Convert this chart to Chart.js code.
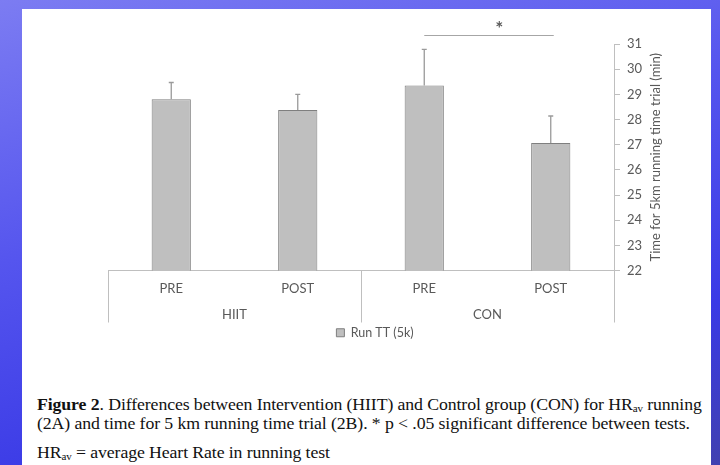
<!DOCTYPE html>
<html>
<head>
<meta charset="utf-8">
<script src="https://cdn.jsdelivr.net/npm/chart.js@4.4.1/dist/chart.umd.min.js"></script>
<style>
  html, body { margin: 0; padding: 0; }
  body {
    width: 720px; height: 465px; overflow: hidden; position: relative;
    background: linear-gradient(165deg, #7c7cf2 0%, #5555ee 40%, #3a3ae6 75%, #4040b0 100%);
  }
  #panel { position: absolute; left: 22px; top: 9px; width: 689px; height: 470px; background: #fff; }
  #wrap { position: absolute; left: 0; top: 0; width: 689px; height: 346px; }
  #caption {
    position: absolute; left: 15px; top: 386px; width: 680px; white-space: nowrap;
    font-family: "Liberation Serif", "Times New Roman", serif; font-size: 17.75px; color: #111;
    line-height: 19px; letter-spacing: -0.1px;
  }
  #caption p { margin: 0; }
  #caption p + p { margin-top: 10px; }
  sub { font-size: 11px; vertical-align: -2px; line-height: 0; }
</style>
</head>
<body>
<div id="panel">
  <div id="wrap"><canvas id="runChart"></canvas></div>
  <div id="caption">
    <p><b>Figure 2</b>. Differences between Intervention (HIIT) and Control group (CON) for HR<sub>av</sub> running<br>(2A) and time for 5 km running time trial (2B). * p &lt; .05 significant difference between tests.</p>
    <p>HR<sub>av</sub> = average Heart Rate in running test</p>
  </div>
</div>
<script>
// data
const phases = ['PRE', 'POST', 'PRE', 'POST'];
const groups = ['HIIT', 'CON'];
const runTimes = [28.8, 28.38, 29.35, 27.07];
const runSD = [0.67, 0.62, 1.44, 1.07];
const sigPair = [2, 3];
const sigLevel = 31.36;
const yTicks = [22, 31];

const labelColor = '#595959';
const lineColor = '#bfbfbf';
const tickFont = { family: 'Lato, "Open Sans", sans-serif', size: 13 };

// error bars, group labels, separators, significance mark, y title
const extras = {
    id: 'extras',
    afterDatasetsDraw(chart) {
        const ctx = chart.ctx;
        const x = chart.scales.x;
        const y = chart.scales.y;
        const area = chart.chartArea;
        ctx.save();

        // error bars
        ctx.strokeStyle = '#9a9a9a';
        ctx.lineWidth = 1.3;
        runTimes.forEach((v, i) => {
            const px = x.getPixelForValue(i);
            const top = y.getPixelForValue(v + runSD[i]);
            ctx.beginPath();
            ctx.moveTo(px, y.getPixelForValue(v));
            ctx.lineTo(px, top);
            ctx.moveTo(px - 2.5, top);
            ctx.lineTo(px + 2.5, top);
            ctx.stroke();
        });

        // separators for the two groups
        const bottom = x.bottom;
        const mid = (x.getPixelForValue(1) + x.getPixelForValue(2)) / 2;
        ctx.strokeStyle = lineColor;
        ctx.lineWidth = 1;
        [area.left, mid, area.right].forEach(px => {
            ctx.beginPath();
            ctx.moveTo(Math.round(px) + 0.5, area.bottom);
            ctx.lineTo(Math.round(px) + 0.5, bottom);
            ctx.stroke();
        });

        // group labels
        ctx.fillStyle = labelColor;
        ctx.font = '13px Lato, "Open Sans", sans-serif';
        ctx.textAlign = 'center';
        ctx.textBaseline = 'middle';
        groups.forEach((g, i) => {
            const cx = (x.getPixelForValue(i * 2) + x.getPixelForValue(i * 2 + 1)) / 2;
            ctx.fillText(g, cx, area.bottom + 44);
        });

        // significance line
        const sx1 = x.getPixelForValue(sigPair[0]);
        const sx2 = x.getPixelForValue(sigPair[1]) + 3;
        const sy = y.getPixelForValue(sigLevel);
        ctx.strokeStyle = '#a6a6a6';
        ctx.beginPath();
        ctx.moveTo(sx1, Math.round(sy) + 0.5);
        ctx.lineTo(sx2, Math.round(sy) + 0.5);
        ctx.stroke();
        ctx.fillStyle = '#595959';
        ctx.font = 'bold 19px Lato, sans-serif';
        ctx.fillText('*', sx1 + (sx2 - sx1) * 0.58, sy - 6);

        // y title, reads bottom to top
        ctx.font = '13px Lato, "Open Sans", sans-serif';
        ctx.fillStyle = labelColor;
        ctx.translate(area.right + 42, (area.top + area.bottom) / 2);
        ctx.rotate(-Math.PI / 2);
        ctx.fillText('Time for 5km running time trial (min)', 0, 0);
        ctx.restore();
    }
};

const ctx = document.getElementById('runChart').getContext('2d');
const runChart = new Chart(ctx, {
    type: 'bar',
    data: {
        labels: phases,
        datasets: [{
            label: 'Run TT (5k)',
            data: runTimes,
            backgroundColor: '#bfbfbf',
            borderColor: '#7f7f7f',
            borderWidth: 1,
            barPercentage: 0.31,
            categoryPercentage: 1
        }]
    },
    options: {
        responsive: true,
        maintainAspectRatio: false,
        animation: false,
        layout: { padding: { left: 86, right: 69, top: 35, bottom: 6 } },
        plugins: {
            tooltip: { enabled: false },
            legend: {
                position: 'bottom',
                labels: {
                    boxWidth: 8,
                    boxHeight: 8,
                    padding: 4,
                    color: labelColor,
                    font: { family: 'Lato, "Open Sans", sans-serif', size: 12.5 }
                }
            }
        },
        scales: {
            x: {
                grid: { display: true, drawOnChartArea: false, drawTicks: false },
                border: { display: true, color: lineColor },
                ticks: { color: labelColor, padding: 11, font: tickFont },
                afterFit(scale) { scale.height = 52; }
            },
            y: {
                position: 'right',
                min: yTicks[0],
                max: yTicks[1],
                grid: { drawOnChartArea: false, tickLength: 6, color: lineColor },
                border: { display: true, color: lineColor },
                ticks: { stepSize: 1, color: labelColor, padding: 7, font: tickFont },
                afterFit(scale) { scale.width = 28; }
            }
        }
    },
    plugins: [extras]
});
</script>
</body>
</html>
